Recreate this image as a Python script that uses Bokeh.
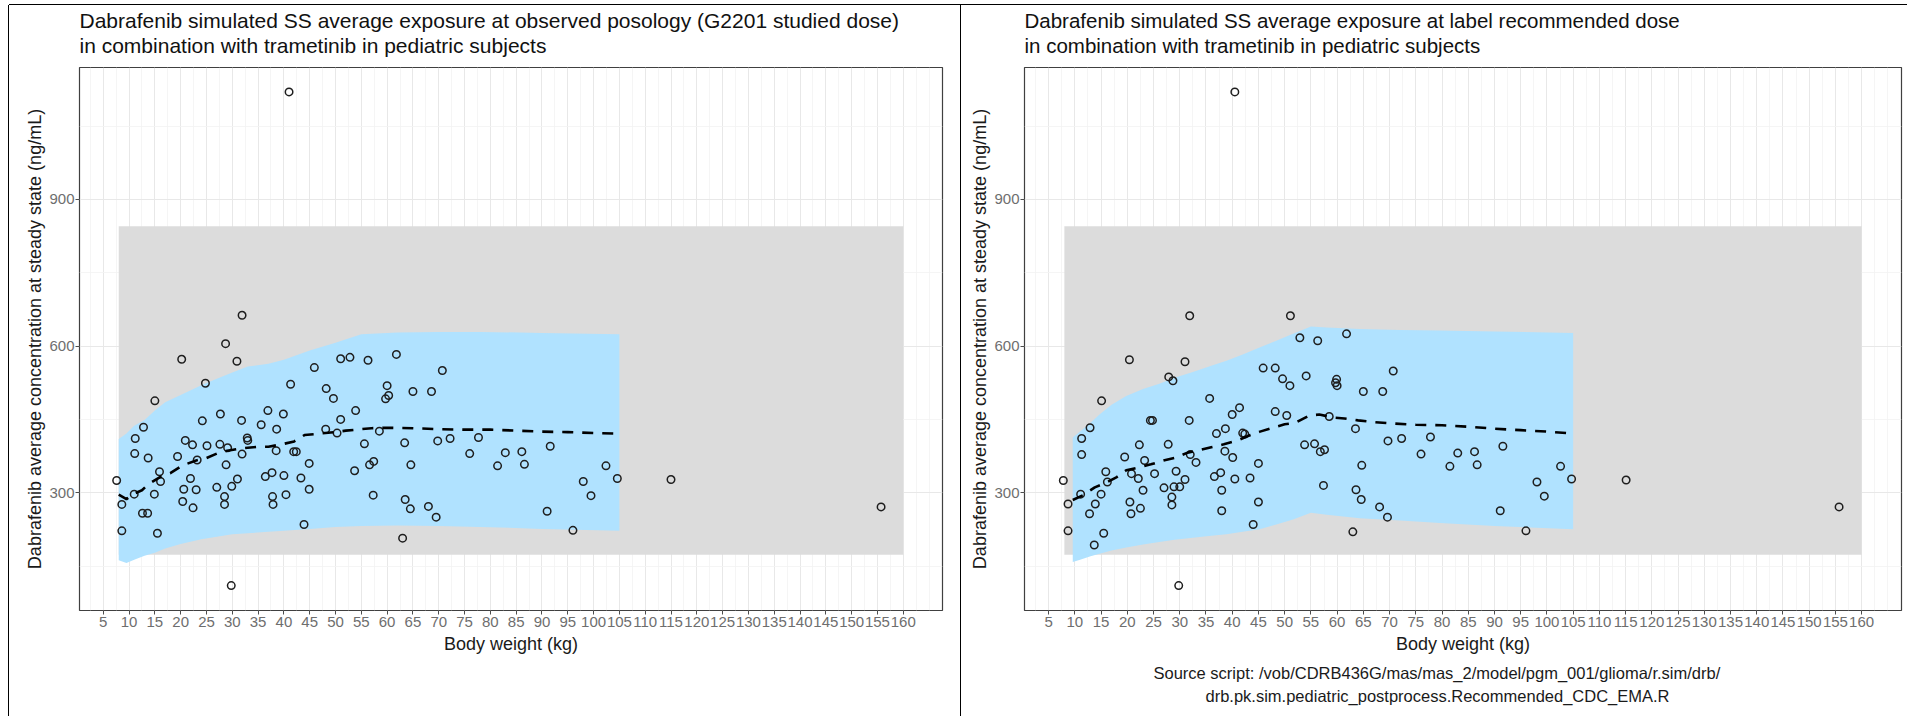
from bokeh.plotting import figure
from bokeh.layouts import row, column
from bokeh.models import FixedTicker, Title, Spacer
from bokeh.embed import file_html
from bokeh.resources import INLINE

FONT = "Liberation Sans"

# ---------------- data ----------------
x_tick_values = [5, 10, 15, 20, 25, 30, 35, 40, 45, 50, 55, 60, 65, 70, 75, 80, 85, 90, 95, 100,
                 105, 110, 115, 120, 125, 130, 135, 140, 145, 150, 155, 160]
x_minor_values = [2.5, 7.5, 12.5, 17.5, 22.5, 27.5, 32.5, 37.5, 42.5, 47.5, 52.5, 57.5, 62.5, 67.5,
                  72.5, 77.5, 82.5, 87.5, 92.5, 97.5, 102.5, 107.5, 112.5, 117.5, 122.5, 127.5,
                  132.5, 137.5, 142.5, 147.5, 152.5, 157.5, 162.5, 165]
y_tick_values = [300, 600, 900]
y_minor_values = [150, 450, 750, 1050]

# reference (adult) exposure range, grey band
ref_band_x = [8, 160]
ref_band_y = [173, 845]

# ---- left panel: observed posology ----
bw_obs = [41.0, 31.9, 28.7, 20.2, 30.9, 24.8, 15.0, 41.3, 45.9, 48.2,
          49.6, 51.0, 52.8, 56.3, 61.8, 60.0, 60.3, 59.7, 65.0, 68.6,
          70.7, 53.9, 36.9, 39.9, 27.7, 24.2, 31.8, 51.0, 12.8, 35.6,
          38.6, 48.1, 50.3, 58.5, 11.2, 20.9, 22.3, 25.1, 27.6, 29.1,
          32.9, 33.0, 31.9, 38.5, 41.9, 42.4, 55.6, 63.4, 69.8, 72.2,
          76.0, 77.7, 11.1, 13.7, 19.4, 23.2, 15.9, 16.1, 21.9, 28.8,
          44.9, 53.7, 56.6, 57.4, 64.6, 7.6, 11.0, 14.9, 20.6, 23.0,
          27.0, 29.9, 31.0, 36.4, 37.7, 40.0, 43.3, 44.9, 40.4, 8.6,
          20.4, 22.4, 28.5, 28.5, 37.8, 37.9, 12.6, 13.6, 8.6, 15.5,
          43.9, 57.3, 63.5, 64.5, 68.0, 69.5, 63.0, 29.8, 81.4, 82.9,
          86.1, 86.6, 91.6, 91.0, 96.0, 98.0, 99.5, 102.4, 104.6, 115.0, 155.7]
conc_obs = [1120, 663, 605, 573, 569, 524, 488, 522, 556, 513,
            493, 574, 577, 571, 583, 519, 499, 492, 507, 507,
            550, 468, 468, 461, 461, 447, 448, 450, 434, 439,
            430, 430, 422, 426, 411, 407, 398, 396, 399, 392,
            412, 407, 379, 386, 384, 384, 400, 402, 406, 411,
            380, 413, 380, 371, 374, 367, 343, 323, 329, 357,
            360, 345, 357, 364, 357, 325, 297, 297, 307, 306,
            311, 313, 328, 333, 341, 335, 330, 307, 296, 276,
            282, 269, 292, 276, 292, 276, 258, 258, 222, 217,
            235, 295, 286, 267, 272, 250, 207, 110, 355, 382,
            384, 358, 395, 262, 223, 323, 294, 355, 329, 327, 271]

pi_obs_wt = [8, 9.5, 11, 13, 15, 17, 20, 24, 27, 30, 33, 37, 40, 45, 50, 55, 62, 70, 78, 90, 105]
pi_obs_hi = [410, 421, 437, 449, 468, 485, 500, 520, 533, 546, 558, 564, 572, 591, 607, 624, 628, 629, 629, 627, 624]
pi_obs_lo = [162, 156, 163, 171, 177, 186, 195, 205, 210, 215, 217, 220, 222, 226, 230, 232, 233, 232, 230, 226, 222]

med_obs_wt = [8, 9.5, 11, 12.5, 13.7, 16, 18, 20.4, 23, 25, 27, 29, 32, 35, 37, 40, 42, 44, 47,
              50, 52, 55, 57, 60, 65, 70, 75, 80, 85, 90, 95, 100, 104]
med_obs = [296, 287, 298, 305, 317, 332, 340, 356, 366, 371, 380, 386, 391, 394, 394, 400, 405, 418, 421,
           424, 427, 430, 432, 433, 432, 430, 429, 429, 427, 425, 424, 422, 421]

# ---- right panel: label recommended dose ----
bw_rec = [40.5, 31.9, 51.1, 20.4, 31.0, 52.9, 56.3, 61.8, 70.7, 45.9,
          48.2, 49.6, 51.0, 54.1, 59.9, 59.7, 60.0, 65.0, 68.7, 27.9,
          28.7, 15.1, 35.7, 40.0, 41.4, 48.2, 50.4, 58.5, 24.4, 24.8,
          31.8, 12.9, 11.3, 11.3, 38.7, 37.0, 42.0, 42.4, 63.5, 22.3,
          27.8, 53.8, 55.7, 69.7, 72.3, 77.8, 76.0, 19.5, 23.3, 32.0,
          33.1, 40.1, 38.6, 56.8, 57.6, 45.0, 64.7, 15.9, 16.2, 20.8,
          22.1, 25.2, 29.3, 31.0, 36.6, 37.8, 40.5, 43.4, 23.0, 27.0,
          28.9, 30.0, 38.0, 57.4, 63.6, 64.6, 68.1, 69.6, 63.0, 7.8,
          11.1, 15.0, 8.7, 13.9, 12.8, 13.7, 15.5, 8.7, 20.5, 20.7,
          22.5, 28.5, 28.5, 38.0, 44.0, 45.0, 29.8, 81.5, 83.0, 86.2,
          86.7, 91.6, 91.1, 96.0, 98.1, 99.5, 102.6, 104.7, 115.1, 155.7]
conc_rec = [1120, 662, 662, 572, 568, 617, 611, 625, 549, 555,
            555, 533, 519, 539, 532, 525, 519, 507, 507, 537,
            529, 488, 493, 460, 474, 466, 458, 456, 448, 448,
            448, 433, 411, 378, 431, 421, 422, 420, 431, 398,
            399, 398, 400, 406, 411, 414, 379, 373, 366, 378,
            362, 372, 385, 384, 388, 360, 356, 343, 322, 339,
            329, 339, 344, 327, 333, 341, 328, 330, 305, 310,
            312, 312, 305, 315, 306, 286, 271, 250, 220, 325,
            297, 297, 277, 277, 257, 193, 217, 222, 281, 257,
            268, 291, 275, 263, 235, 281, 110, 354, 381, 384,
            357, 395, 263, 222, 322, 293, 354, 328, 326, 271]

pi_rec_wt = [9.6, 11, 13, 14.7, 17, 19.8, 23, 26.1, 29, 32.5, 36, 38.9, 42, 45.2, 48.4, 51.6, 55, 58,
             64.3, 72, 79.6, 90, 105]
pi_rec_hi = [413, 425, 443, 460, 480, 498, 512, 523, 535, 547, 560, 570, 583, 597, 611, 625, 640, 638,
             635, 633, 632, 630, 627]
pi_rec_lo = [158, 163, 170, 175, 182, 188, 194, 199, 204, 208, 212, 215, 220, 225, 235, 245, 259, 255,
             248, 243, 238, 232, 225]

med_rec_wt = [9.6, 11.6, 13.8, 15.7, 18, 19.8, 22.3, 24.5, 26.9, 29.3, 31.5, 33.7, 36, 38.4, 41, 43,
              45.3, 47.7, 50, 52, 54.7, 56.6, 59.2, 61.4, 64, 66.5, 70, 75, 80, 85, 90, 95, 100, 105]
med_rec = [285, 295, 311, 319, 332, 346, 352, 358, 366, 372, 382, 387, 393, 399, 407, 416,
           425, 433, 440, 443, 458, 460, 454, 452, 448, 445, 442, 439, 438, 435, 431, 428, 425, 421]

title_obs = ["Dabrafenib simulated SS average exposure at observed posology (G2201 studied dose)",
             "in combination with trametinib in pediatric subjects"]
title_rec = ["Dabrafenib simulated SS average exposure at label recommended dose",
             "in combination with trametinib in pediatric subjects"]
caption_rec = ["Source script: /vob/CDRB436G/mas/mas_2/model/pgm_001/glioma/r.sim/drb/",
               "drb.pk.sim.pediatric_postprocess.Recommended_CDC_EMA.R"]
x_label = "Body weight (kg)"
y_label = "Dabrafenib average concentration at steady state (ng/mL)"

GREY_BAND = "#DCDCDC"
BLUE_BAND = "#B0E2FF"
TOP = 5          # y of the figures on the page
FIG_H = 711


def make_panel(width, mb, titles, title_size, wt, conc, pi_wt, pi_lo, pi_hi, m_wt, m_val,
               captions=None):
    p = figure(width=width, height=FIG_H, x_range=(0.4, 167.6), y_range=(59, 1170),
               output_backend="svg", toolbar_location=None, title=None,
               min_border_left=mb[0], min_border_right=mb[1],
               min_border_top=mb[2], min_border_bottom=mb[3])
    p.background_fill_color = "white"
    p.border_fill_color = "white"
    p.outline_line_color = "#404040"
    p.outline_line_width = 1.2

    xt = FixedTicker(ticks=x_tick_values, minor_ticks=x_minor_values)
    yt = FixedTicker(ticks=y_tick_values, minor_ticks=y_minor_values)
    p.xaxis[0].ticker = xt
    p.xgrid[0].ticker = xt
    p.yaxis[0].ticker = yt
    p.ygrid[0].ticker = yt

    for g in (p.xgrid[0], p.ygrid[0]):
        g.grid_line_color = "#E8E8E8"
        g.grid_line_width = 1
        g.minor_grid_line_color = "#F2F2F2"
        g.minor_grid_line_width = 0.8

    for ax in (p.xaxis[0], p.yaxis[0]):
        ax.axis_line_color = None
        ax.minor_tick_line_color = None
        ax.major_tick_line_color = "#4D4D4D"
        ax.major_tick_in = 0
        ax.major_tick_out = 4
        ax.major_label_text_font = FONT
        ax.major_label_text_font_size = "15px"
        ax.major_label_text_color = "#6E6E6E"
        ax.axis_label_text_font = FONT
        ax.axis_label_text_font_size = "18px"
        ax.axis_label_text_font_style = "normal"
        ax.axis_label_text_color = "#1A1A1A"
    p.xaxis[0].axis_label = x_label
    p.yaxis[0].axis_label = y_label
    p.xaxis[0].major_label_standoff = 2
    p.xaxis[0].axis_label_standoff = 4
    p.yaxis[0].major_label_standoff = 1
    p.yaxis[0].axis_label_standoff = 1

    p.quad(left=ref_band_x[0], right=ref_band_x[1], bottom=ref_band_y[0], top=ref_band_y[1],
           fill_color=GREY_BAND, line_color=None)
    p.varea(x=pi_wt, y1=pi_lo, y2=pi_hi, fill_color=BLUE_BAND)
    p.scatter(wt, conc, marker="circle", size=7.5, fill_color=None,
              line_color="#1E1E1E", line_width=1.5)
    p.line(m_wt, m_val, line_color="black", line_width=2.6, line_dash="11 9")

    # two-line title (inner line first, outer line last); standoffs lift both lines
    for t, so in zip(reversed(titles), (22, -22)):
        p.add_layout(Title(text=t, text_font=FONT, text_font_size=title_size,
                           text_font_style="normal", text_color="#111111",
                           align="left", standoff=so), "above")
    if captions:
        for c, off, so in zip(captions, (129, 181), (10, -4)):
            p.add_layout(Title(text=c, text_font=FONT, text_font_size="16.5px",
                               text_font_style="normal", text_color="#1A1A1A",
                               align="left", offset=off, standoff=so), "below")
    return p


# left image: x 9..961, frame 79..942, 67..610
p_left = make_panel(952, (70, 19, 67 - TOP, 716 - 610), title_obs, "21px", bw_obs, conc_obs,
                    pi_obs_wt, pi_obs_lo, pi_obs_hi, med_obs_wt, med_obs)
p_left.styles = {"box-shadow": "-1px 0 0 0 #000000, 0 -1px 0 0 #000000"}

# right image: x 961..1907, frame 1024..1901, 60..612
p_right = make_panel(946, (63, 6, 60 - TOP, 716 - 612), title_rec, "20.5px", bw_rec, conc_rec,
                     pi_rec_wt, pi_rec_lo, pi_rec_hi, med_rec_wt, med_rec, captions=caption_rec)
p_right.styles = {"box-shadow": "-1px 0 0 0 #000000, 0 -1px 0 0 #000000"}

layout = column(Spacer(height=TOP), row(Spacer(width=9), p_left, p_right))

open("out.html", "w").write(file_html(layout, INLINE))
